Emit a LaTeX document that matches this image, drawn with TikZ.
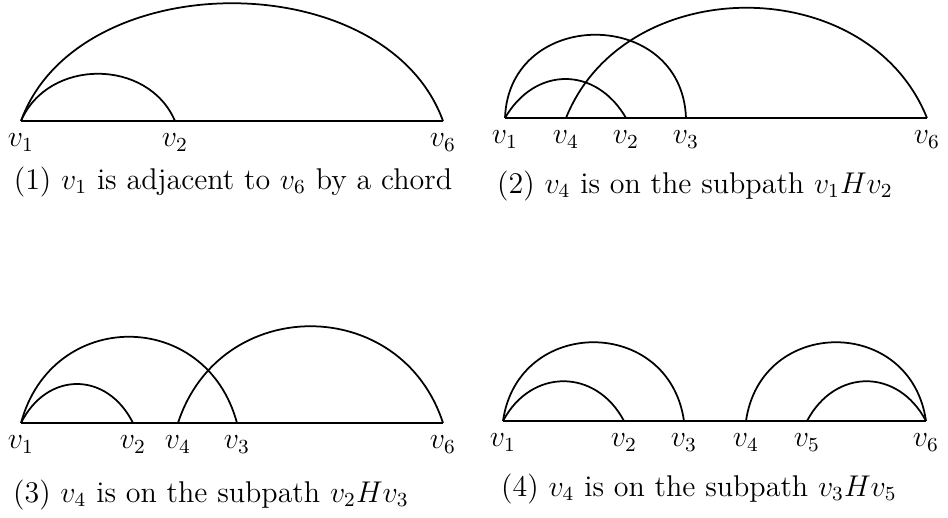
\documentclass[tikz,border=0pt,12pt]{standalone}
\usetikzlibrary{positioning}
\tikzset{
  edge/.style={line width=0.7pt},
  vlab/.style={below=1pt of #1},
  caption/.style={inner sep=0pt}
}
\begin{document}
\begin{tikzpicture}[x=0.4pt,y=-0.4pt]
\useasboundingbox (0,0) rectangle (948,518);
% (1)
\coordinate (a1) at (21,121);
\coordinate (a2) at (175,121);
\coordinate (a6) at (443,121);
\node[vlab=a1] (la1) {$v_1$};
\node[vlab=a2] (la2) {$v_2$};
\node[vlab=a6] (la6) {$v_6$};
\draw[edge] (a1) -- (a6);
\draw[edge] (a1) .. controls +(57,-157) and +(-57,-157) .. (a6);
\draw[edge] (a1) .. controls +(27,-63) and +(-27,-63) .. (a2);
\node[caption] (capa) at (233,182) {(1) $v_1$ is adjacent to $v_6$ by a chord};
% (2)
\coordinate (b1) at (505,118);
\coordinate (b4) at (566,118);
\coordinate (b2) at (626,118);
\coordinate (b3) at (686,118);
\coordinate (b6) at (927,118);
\node[vlab=b1] (lb1) {$v_1$};
\node[vlab=b4] (lb4) {$v_4$};
\node[vlab=b2] (lb2) {$v_2$};
\node[vlab=b3] (lb3) {$v_3$};
\node[vlab=b6] (lb6) {$v_6$};
\draw[edge] (b1) -- (b6);
\draw[edge] (b1) .. controls +(30,-52) and +(-30,-52) .. (b2);
\draw[edge] (b1) .. controls +(4,-111) and +(-4,-111) .. (b3);
\draw[edge] (b4) .. controls +(59,-147) and +(-59,-147) .. (b6);
\node[caption] (capb) at (695,186) {(2) $v_4$ is on the subpath $v_1Hv_2$};
% (3)
\coordinate (c1) at (21,423);
\coordinate (c2) at (133,423);
\coordinate (c4) at (178,423);
\coordinate (c3) at (237,423);
\coordinate (c6) at (443,423);
\node[vlab=c1] (lc1) {$v_1$};
\node[vlab=c2] (lc2) {$v_2$};
\node[vlab=c4] (lc4) {$v_4$};
\node[vlab=c3] (lc3) {$v_3$};
\node[vlab=c6] (lc6) {$v_6$};
\draw[edge] (c1) -- (c6);
\draw[edge] (c1) .. controls +(26,-52) and +(-26,-52) .. (c2);
\draw[edge] (c1) .. controls +(31,-115) and +(-31,-115) .. (c3);
\draw[edge] (c4) .. controls +(42,-129) and +(-42,-129) .. (c6);
\node[caption] (capc) at (211,495) {(3) $v_4$ is on the subpath $v_2Hv_3$};
% (4)
\coordinate (d1) at (503,421);
\coordinate (d2) at (624,421);
\coordinate (d3) at (684,421);
\coordinate (d4) at (746,421);
\coordinate (d5) at (807,421);
\coordinate (d6) at (926,421);
\node[vlab=d1] (ld1) {$v_1$};
\node[vlab=d2] (ld2) {$v_2$};
\node[vlab=d3] (ld3) {$v_3$};
\node[vlab=d4] (ld4) {$v_4$};
\node[vlab=d5] (ld5) {$v_5$};
\node[vlab=d6] (ld6) {$v_6$};
\draw[edge] (d1) -- (d6);
\draw[edge] (d1) .. controls +(28,-53) and +(-28,-53) .. (d2);
\draw[edge] (d1) .. controls +(15,-105) and +(-15,-105) .. (d3);
\draw[edge] (d4) .. controls +(15,-105) and +(-15,-105) .. (d6);
\draw[edge] (d5) .. controls +(28,-53) and +(-28,-53) .. (d6);
\node[caption] (capd) at (699,489) {(4) $v_4$ is on the subpath $v_3Hv_5$};
\end{tikzpicture}
\end{document}
